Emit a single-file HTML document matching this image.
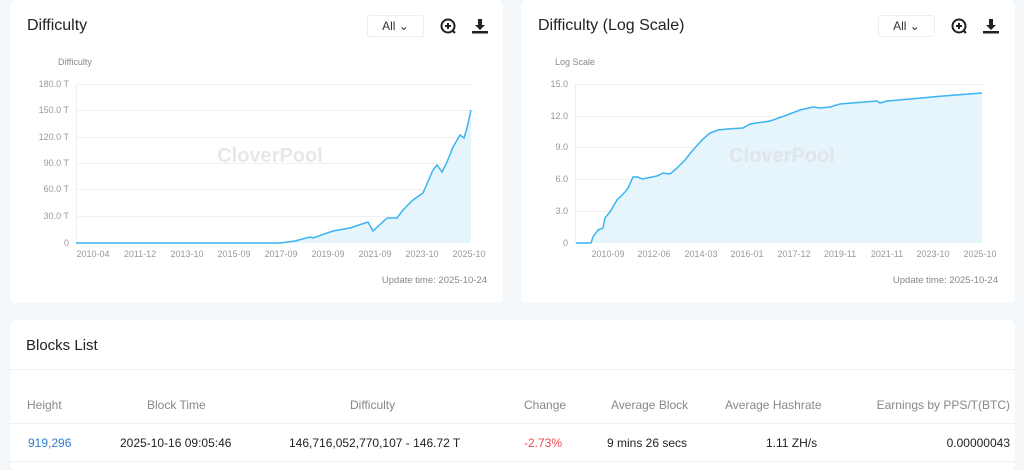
<!DOCTYPE html>
<html><head><meta charset="utf-8"><style>
*{margin:0;padding:0;box-sizing:border-box}
body{width:1024px;height:466px;background:#f4f7fa;font-family:"Liberation Sans",sans-serif;position:relative;overflow:hidden;color:#333}
.card{position:absolute;background:#fff;border-radius:6px}
.t{position:absolute;font-size:16px;color:#222}
.sel{position:absolute;width:57px;height:22px;border:1px solid #eee;border-radius:3px;font-size:12px;color:#333;text-align:center;line-height:20px}
svg text{font-family:"Liberation Sans",sans-serif}
.hd{position:absolute;top:398px;font-size:12px;color:#888}
.dv{position:absolute;top:436px;font-size:12px;color:#222}
</style></head><body>
<div class="card" style="left:10px;top:0;width:493px;height:303px"></div>
<div class="card" style="left:521px;top:0;width:494px;height:303px"></div>
<div class="card" style="left:10px;top:320px;width:1005px;height:150px"></div>

<div class="t" style="left:27px;top:17px">Difficulty</div>
<div class="sel" style="left:367px;top:15px">All ⌄</div>
<div class="t" style="left:538px;top:17px">Difficulty (Log Scale)</div>
<div class="sel" style="left:878px;top:15px">All ⌄</div>

<svg width="1024" height="320" style="position:absolute;left:0;top:0">
<g fill="none" stroke="#222" stroke-width="2">
<circle cx="448" cy="26" r="6.5"/><line x1="445" y1="26" x2="451" y2="26"/><line x1="448" y1="23" x2="448" y2="29"/><line x1="452.5" y1="30.5" x2="455" y2="33"/>
<circle cx="959" cy="26" r="6.5"/><line x1="956" y1="26" x2="962" y2="26"/><line x1="959" y1="23" x2="959" y2="29"/><line x1="963.5" y1="30.5" x2="966" y2="33"/>
</g>
<g fill="#222">
<path d="M478 19h4v6h3l-5 5-5-5h3z"/><rect x="472" y="31" width="16" height="2.5"/>
<path d="M989 19h4v6h3l-5 5-5-5h3z"/><rect x="983" y="31" width="16" height="2.5"/>
</g>
<g font-size="9" fill="#888">
<text x="58" y="65">Difficulty</text>
<text x="555" y="65">Log Scale</text>
</g>
<g stroke="#f0f0f0" stroke-width="1">
<line x1="76" y1="84.5" x2="471" y2="84.5"/><line x1="76" y1="110.5" x2="471" y2="110.5"/><line x1="76" y1="137.5" x2="471" y2="137.5"/><line x1="76" y1="163.5" x2="471" y2="163.5"/><line x1="76" y1="189.5" x2="471" y2="189.5"/><line x1="76" y1="216.5" x2="471" y2="216.5"/>
<line x1="576" y1="84.5" x2="982" y2="84.5"/><line x1="576" y1="116.5" x2="982" y2="116.5"/><line x1="576" y1="147.5" x2="982" y2="147.5"/><line x1="576" y1="179.5" x2="982" y2="179.5"/><line x1="576" y1="211.5" x2="982" y2="211.5"/>
<line x1="76.5" y1="84" x2="76.5" y2="243"/><line x1="575.5" y1="84" x2="575.5" y2="243"/>
</g>
<g font-size="9" fill="#999" text-anchor="end">
<text x="69" y="87">180.0 T</text><text x="69" y="113">150.0 T</text><text x="69" y="140">120.0 T</text><text x="69" y="166">90.0 T</text><text x="69" y="192">60.0 T</text><text x="69" y="219">30.0 T</text><text x="69" y="246">0</text>
<text x="568" y="87">15.0</text><text x="568" y="119">12.0</text><text x="568" y="150">9.0</text><text x="568" y="182">6.0</text><text x="568" y="214">3.0</text><text x="568" y="246">0</text>
</g>
<g font-size="9" fill="#999" text-anchor="middle">
<text x="93" y="257">2010-04</text><text x="140" y="257">2011-12</text><text x="187" y="257">2013-10</text><text x="234" y="257">2015-09</text><text x="281" y="257">2017-09</text><text x="328" y="257">2019-09</text><text x="375" y="257">2021-09</text><text x="422" y="257">2023-10</text><text x="469" y="257">2025-10</text>
<text x="608" y="257">2010-09</text><text x="654" y="257">2012-06</text><text x="701" y="257">2014-03</text><text x="747" y="257">2016-01</text><text x="794" y="257">2017-12</text><text x="840" y="257">2019-11</text><text x="887" y="257">2021-11</text><text x="933" y="257">2023-10</text><text x="980" y="257">2025-10</text>
</g>
<path d="M76 243L280 243L295 241L310 237L313 238L333 231L350 228L368 222L373 231L387 218L397 218L403 210L413 200L423 193L433 170L437 165L442 172L447 162L453 147L460 135L464 138L467 128L471 110L471 243Z" fill="#e6f4fb"/>
<path d="M576 243L591 243L593 237L598 230L603 228L605 218L610 212L617 200L625 192L628 188L633 177L638 177L642 179L657 176L663 173L670 174L677 168L685 160L693 150L702 140L710 133L718 130L727 129L743 128L750 124L770 121L787 115L800 110L813 107L820 108L830 107L840 104L877 101L880 103L887 101L910 99L943 96L982 93L982 243Z" fill="#e6f4fb"/>
<g font-size="20" fill="#dfe1e3" fill-opacity="0.8" font-weight="bold" text-anchor="middle">
<text x="270" y="162">CloverPool</text><text x="782" y="162">CloverPool</text>
</g>
<path d="M76 243L280 243L295 241L310 237L313 238L333 231L350 228L368 222L373 231L387 218L397 218L403 210L413 200L423 193L433 170L437 165L442 172L447 162L453 147L460 135L464 138L467 128L471 110" fill="none" stroke="#3bb4f2" stroke-width="1.5"/>
<path d="M576 243L591 243L593 237L598 230L603 228L605 218L610 212L617 200L625 192L628 188L633 177L638 177L642 179L657 176L663 173L670 174L677 168L685 160L693 150L702 140L710 133L718 130L727 129L743 128L750 124L770 121L787 115L800 110L813 107L820 108L830 107L840 104L877 101L880 103L887 101L910 99L943 96L982 93" fill="none" stroke="#3bb4f2" stroke-width="1.5"/>
<g font-size="9.5" fill="#888" text-anchor="end">
<text x="487" y="283">Update time: 2025-10-24</text>
<text x="998" y="283">Update time: 2025-10-24</text>
</g>
</svg>

<div style="position:absolute;left:26px;top:337px;font-size:15px;color:#222">Blocks List</div>
<div style="position:absolute;left:10px;top:369px;width:1005px;height:1px;background:#f0f0f0"></div>
<div style="position:absolute;left:10px;top:423px;width:1005px;height:1px;background:#f0f0f0"></div>
<div style="position:absolute;left:10px;top:461px;width:1005px;height:1px;background:#f0f0f0"></div>
<div class="hd" style="left:27px">Height</div>
<div class="hd" style="left:147px">Block Time</div>
<div class="hd" style="left:350px">Difficulty</div>
<div class="hd" style="left:524px">Change</div>
<div class="hd" style="left:611px">Average Block</div>
<div class="hd" style="left:725px">Average Hashrate</div>
<div class="hd" style="right:14px">Earnings by PPS/T(BTC)</div>
<div class="dv" style="left:28px;color:#2f7dd1">919,296</div>
<div class="dv" style="left:120px">2025-10-16 09:05:46</div>
<div class="dv" style="left:289px">146,716,052,770,107 - 146.72 T</div>
<div class="dv" style="left:524px;color:#f0484e">-2.73%</div>
<div class="dv" style="left:607px">9 mins 26 secs</div>
<div class="dv" style="left:766px">1.11 ZH/s</div>
<div class="dv" style="right:14px">0.00000043</div>
</body></html>
